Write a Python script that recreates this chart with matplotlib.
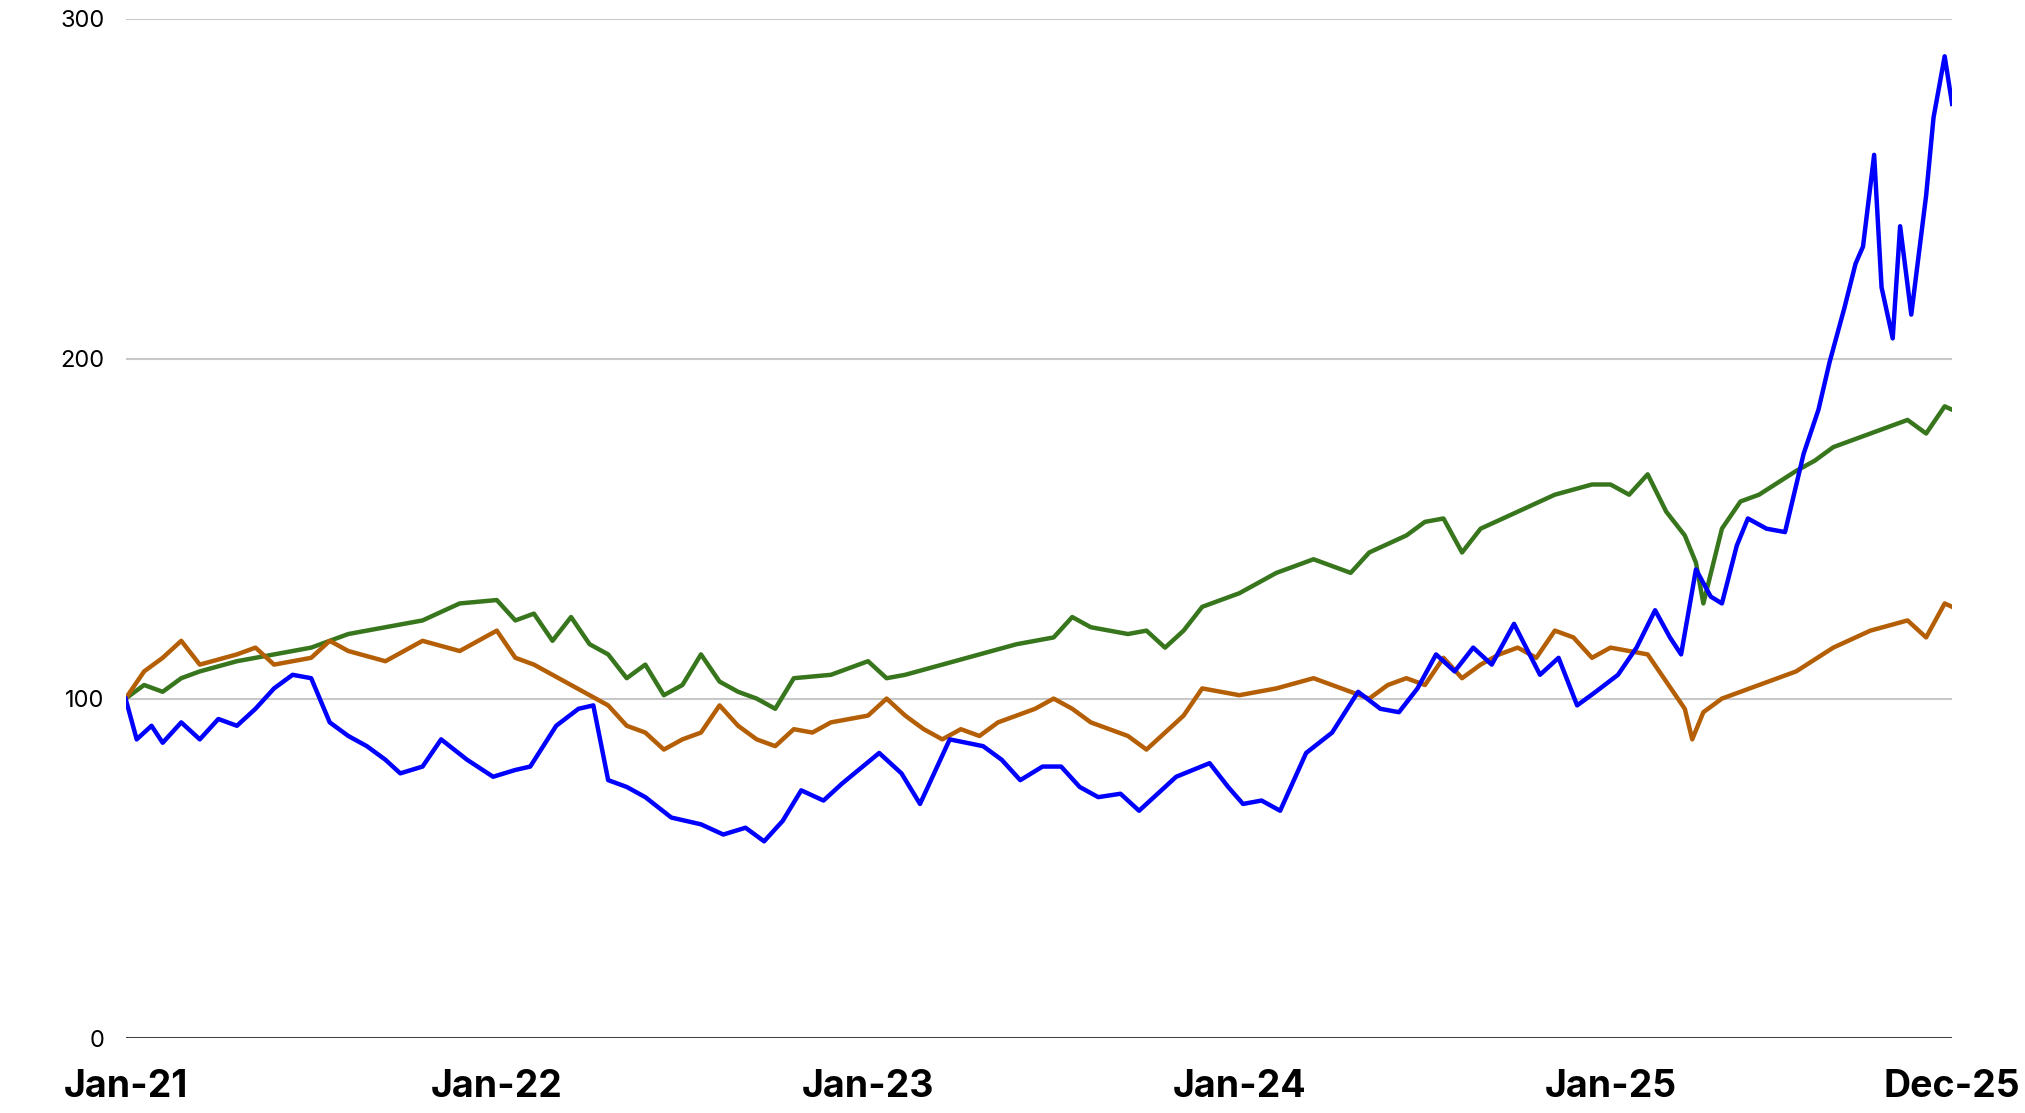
import numpy as np
import matplotlib.pyplot as plt

plt.rcParams['font.family'] = ['Inter', 'DejaVu Sans']

# time in fractional years
blue_t = [2021.0, 2021.03, 2021.07, 2021.1, 2021.15, 2021.2, 2021.25, 2021.3, 2021.35, 2021.4, 2021.45,
          2021.5, 2021.55, 2021.6, 2021.65, 2021.7, 2021.74, 2021.8, 2021.85, 2021.92, 2021.99,
          2022.05, 2022.09, 2022.16, 2022.22, 2022.26, 2022.3, 2022.35, 2022.4, 2022.47, 2022.55,
          2022.61, 2022.67, 2022.72, 2022.77, 2022.82, 2022.88, 2022.93, 2023.03, 2023.09, 2023.14,
          2023.22, 2023.31, 2023.36, 2023.41, 2023.47, 2023.52, 2023.57, 2023.62, 2023.68, 2023.73,
          2023.78, 2023.83, 2023.92, 2023.97, 2024.01, 2024.06, 2024.11, 2024.18, 2024.25, 2024.32,
          2024.38, 2024.43, 2024.48, 2024.53, 2024.58, 2024.63, 2024.68, 2024.74, 2024.81, 2024.86,
          2024.91, 2024.96, 2025.02, 2025.07, 2025.12, 2025.16, 2025.19, 2025.23, 2025.27, 2025.3,
          2025.34, 2025.37, 2025.42, 2025.47, 2025.52, 2025.56, 2025.59, 2025.63, 2025.66, 2025.68,
          2025.71, 2025.73, 2025.76, 2025.78, 2025.81, 2025.85, 2025.87, 2025.9, 2025.92]
blue_v = [100, 88, 92, 87, 93, 88, 94, 92, 97, 103, 107,
          106, 93, 89, 86, 82, 78, 80, 88, 82, 77,
          79, 80, 92, 97, 98, 76, 74, 71, 65, 63,
          60, 62, 58, 64, 73, 70, 75, 84, 78, 69,
          88, 86, 82, 76, 80, 80, 74, 71, 72, 67,
          72, 77, 81, 74, 69, 70, 67, 84, 90, 102,
          97, 96, 103, 113, 108, 115, 110, 122, 107, 112,
          98, 102, 107, 115, 126, 118, 113, 138, 130, 128,
          145, 153, 150, 149, 172, 185, 199, 215, 228, 233,
          260, 221, 206, 239, 213, 248, 271, 289, 275]

green_t = [2021.0, 2021.05, 2021.1, 2021.15, 2021.2, 2021.3, 2021.4, 2021.5, 2021.6, 2021.7, 2021.8,
           2021.9, 2022.0, 2022.05, 2022.1, 2022.15, 2022.2, 2022.25, 2022.3, 2022.35, 2022.4,
           2022.45, 2022.5, 2022.55, 2022.6, 2022.65, 2022.7, 2022.75, 2022.8, 2022.9, 2023.0,
           2023.05, 2023.1, 2023.2, 2023.3, 2023.4, 2023.5, 2023.55, 2023.6, 2023.7, 2023.75,
           2023.8, 2023.85, 2023.9, 2024.0, 2024.1, 2024.2, 2024.3, 2024.35, 2024.45, 2024.5,
           2024.55, 2024.6, 2024.65, 2024.75, 2024.85, 2024.95, 2025.0, 2025.05, 2025.1, 2025.15,
           2025.2, 2025.23, 2025.25, 2025.3, 2025.35, 2025.4, 2025.5, 2025.55, 2025.6, 2025.7,
           2025.75, 2025.8, 2025.85, 2025.9, 2025.92]
green_v = [100, 104, 102, 106, 108, 111, 113, 115, 119, 121, 123,
           128, 129, 123, 125, 117, 124, 116, 113, 106, 110,
           101, 104, 113, 105, 102, 100, 97, 106, 107, 111,
           106, 107, 110, 113, 116, 118, 124, 121, 119, 120,
           115, 120, 127, 131, 137, 141, 137, 143, 148, 152,
           153, 143, 150, 155, 160, 163, 163, 160, 166, 155,
           148, 140, 128, 150, 158, 160, 167, 170, 174, 178,
           180, 182, 178, 186, 185]

orange_t = [2021.0, 2021.05, 2021.1, 2021.15, 2021.2, 2021.3, 2021.35, 2021.4, 2021.5, 2021.55, 2021.6,
            2021.7, 2021.8, 2021.9, 2022.0, 2022.05, 2022.1, 2022.15, 2022.2, 2022.25, 2022.3,
            2022.35, 2022.4, 2022.45, 2022.5, 2022.55, 2022.6, 2022.65, 2022.7, 2022.75, 2022.8,
            2022.85, 2022.9, 2023.0, 2023.05, 2023.1, 2023.15, 2023.2, 2023.25, 2023.3, 2023.35,
            2023.4, 2023.45, 2023.5, 2023.55, 2023.6, 2023.65, 2023.7, 2023.75, 2023.8, 2023.85,
            2023.9, 2024.0, 2024.1, 2024.2, 2024.3, 2024.35, 2024.4, 2024.45, 2024.5, 2024.55,
            2024.6, 2024.65, 2024.7, 2024.75, 2024.8, 2024.85, 2024.9, 2024.95, 2025.0, 2025.1,
            2025.15, 2025.2, 2025.22, 2025.25, 2025.3, 2025.4, 2025.5, 2025.6, 2025.7, 2025.8,
            2025.85, 2025.9, 2025.92]
orange_v = [100, 108, 112, 117, 110, 113, 115, 110, 112, 117, 114,
            111, 117, 114, 120, 112, 110, 107, 104, 101, 98,
            92, 90, 85, 88, 90, 98, 92, 88, 86, 91,
            90, 93, 95, 100, 95, 91, 88, 91, 89, 93,
            95, 97, 100, 97, 93, 91, 89, 85, 90, 95,
            103, 101, 103, 106, 102, 100, 104, 106, 104, 112,
            106, 110, 113, 115, 112, 120, 118, 112, 115, 113,
            105, 97, 88, 96, 100, 104, 108, 115, 120, 123,
            118, 128, 127]

tick_pos = [2021.0, 2022.0, 2023.0, 2024.0, 2025.0, 2025.92]
tick_labels = ['Jan-21', 'Jan-22', 'Jan-23', 'Jan-24', 'Jan-25', 'Dec-25']

fig = plt.figure(figsize=(20.25, 11.13), dpi=100)
ax = fig.add_axes([0.062, 0.067, 0.902, 0.916])
ax.plot(green_t, green_v, color='#38761d', linewidth=3.2)
ax.plot(orange_t, orange_v, color='#b45f06', linewidth=3.2)
ax.plot(blue_t, blue_v, color='#0000ff', linewidth=3.2)

ax.set_ylim(0, 300)
ax.set_xlim(2021.0, 2025.92)
ax.set_yticks([0, 100, 200, 300])
ax.set_yticklabels(['0', '100', '200', '300'], fontsize=17)
ax.set_xticks(tick_pos)
ax.set_xticklabels(tick_labels, fontsize=27, fontweight='bold')
ax.grid(axis='y', color='#c8c8c8', linewidth=1.5)
ax.axhline(0, color='#333333', linewidth=2)
for s in ax.spines.values():
    s.set_visible(False)
ax.tick_params(axis='both', length=0)
ax.tick_params(axis='y', pad=15)
ax.tick_params(axis='x', pad=22)
ax.set_axisbelow(True)

plt.savefig('out.png')
plt.close(fig)
